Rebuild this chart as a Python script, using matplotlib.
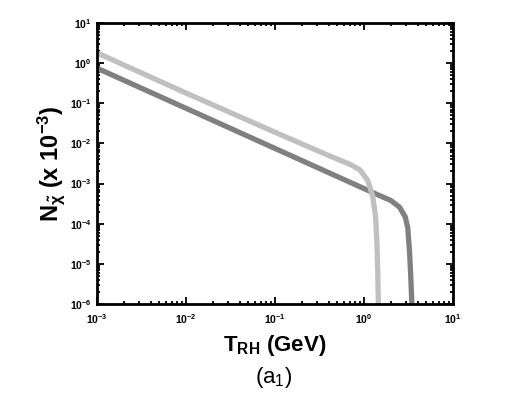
import numpy as np
import matplotlib as mpl
mpl.use('Agg')
import matplotlib.pyplot as plt
from matplotlib.ticker import LogLocator, FuncFormatter, NullFormatter

plt.rcParams['font.family'] = ['Liberation Sans', 'DejaVu Sans']
plt.rcParams['mathtext.fontset'] = 'custom'
plt.rcParams['mathtext.rm'] = 'Liberation Sans'
plt.rcParams['mathtext.it'] = 'Liberation Sans:italic'
plt.rcParams['mathtext.bf'] = 'Liberation Sans:bold'

# light grey curve
t_light = [0.001, 0.01, 0.1, 0.4, 0.7, 0.9, 1.1, 1.25, 1.35, 1.40, 1.43, 1.45]
n_light = [1.8, 0.18, 0.019, 0.0050, 0.0030, 0.0022, 0.0012, 0.0005, 0.00015, 3e-5, 5e-6, 1e-6]

# dark grey curve
t_dark = [0.001, 0.01, 0.1, 1.0, 1.5, 2.0, 2.5, 2.9, 3.1, 3.25, 3.35, 3.45]
n_dark = [0.75, 0.075, 0.0075, 0.00075, 0.00050, 0.00038, 0.00026, 0.00015, 0.00008, 2e-5, 5e-6, 1e-6]

fig = plt.figure(figsize=(5.26, 3.93), dpi=100)
ax = fig.add_axes([97 / 526, 1 - 304 / 393, 356 / 526, 281 / 393])

ax.plot(t_dark, n_dark, color='#808080', lw=3.8, solid_capstyle='butt')
ax.plot(t_light, n_light, color='#c0c0c0', lw=3.8, solid_capstyle='butt')

ax.set_xscale('log')
ax.set_yscale('log')
ax.set_xlim(1e-3, 1e1)
ax.set_ylim(1e-6, 1e1)

def pow_fmt(v, pos):
    e = int(round(np.log10(v)))
    return r'$\mathbf{10^{%d}}$' % e

ax.xaxis.set_major_locator(LogLocator(base=10, numticks=10))
ax.yaxis.set_major_locator(LogLocator(base=10, numticks=10))
ax.xaxis.set_minor_locator(LogLocator(base=10, subs=np.arange(2, 10), numticks=20))
ax.yaxis.set_minor_locator(LogLocator(base=10, subs=np.arange(2, 10), numticks=20))
ax.xaxis.set_major_formatter(FuncFormatter(pow_fmt))
ax.yaxis.set_major_formatter(FuncFormatter(pow_fmt))
ax.xaxis.set_minor_formatter(NullFormatter())
ax.yaxis.set_minor_formatter(NullFormatter())

ax.tick_params(which='both', direction='in', top=True, right=True, width=1.3, labelsize=7.5)
ax.tick_params(which='major', length=5)
ax.tick_params(which='minor', length=2.5)
ax.tick_params(axis='x', pad=6)
ax.tick_params(axis='y', pad=4)
for s in ax.spines.values():
    s.set_linewidth(2)

ax.set_ylabel(r'N$_{\mathbf{\tilde{\chi}}}$ (x 10$^{\mathbf{-3}}$)', fontsize=17, fontweight='bold', labelpad=2)
fig.text(275 / 526, 1 - 346 / 393, r'T$_{\mathbf{RH}}$ (GeV)', fontsize=16, fontweight='bold',
         ha='center', va='center')
fig.text(274 / 526, 1 - 377 / 393, r'(a$_{1}$)', fontsize=16, ha='center', va='center')

fig.savefig('out.png', dpi=100)
